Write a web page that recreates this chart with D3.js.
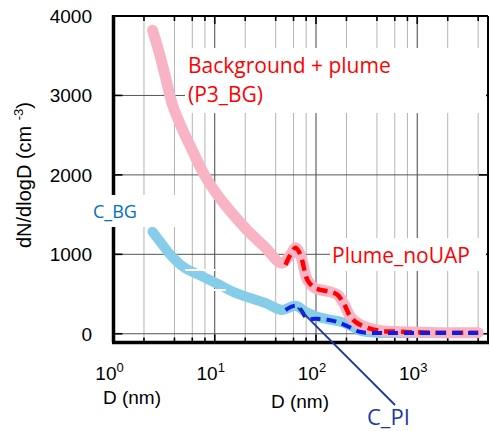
<!DOCTYPE html>
<html><head><meta charset="utf-8">
<script src="https://cdn.jsdelivr.net/npm/d3@7"></script>
<style>body{margin:0;background:#fff}svg{display:block}</style>
</head><body>
<svg id="c" width="490" height="431"></svg>
<script>
// ---- data ----
const bgPlumeD = [2.43,2.78,3.26,3.83,4.82,5.98,7.9,10.9,14.8,20.8,30.9,46,55.9,62.8,70.2,82.2,96.4,110.5,139,163,191,219,262,323,433,683,1700,4000];
const bgPlumeV = [3820,3572,3233,2881,2566,2315,2000,1727,1518,1308,1098,889,994,1082,994,679,579,553,528,490,365,214,126,75,38,25,13,13];
const plumeD = [50,55.9,62.8,70.2,82.2,96.4,110.5,139,163,191,219,262,323,433,683,1700,4000];
const plumeV = [868,994,1082,994,679,579,553,528,490,365,214,126,75,38,25,13,13];
const cbgD = [2.43,3.14,3.65,4.94,7.23,10.6,15.4,22.5,33,46,62.8,78.8,103,139,175,219,275,387,1070,4000];
const cbgV = [1283,1098,994,839,733,629,524,449,377,300,352,277,214,176,151,101,38,13,10,10];
const cpiD = [50,62.8,71,82,100,130,160,210,270,340,600,1500,4000];
const cpiV = [300,352,300,189,189,176,151,88,25,12,10,10,10];
const yTicks = [0,1000,2000,3000,4000];
const xMajor = [1,10,100,1000];
const xGrid = [2,4,6,8,10,20,40,60,80,100,200,400,600,800,1000,2000,4000];

const svg = d3.select("#c");
const x = d3.scaleLog().domain([1,5000]).range([113.5,488]);
const y = d3.scaleLinear().domain([-110,4000]).range([342.5,16]);
const L=113.5,R=488,T=16,B=342.5;

// grid
const isMajor = v => Math.abs(Math.log10(v)-Math.round(Math.log10(v)))<1e-9;
svg.append("g").selectAll("line").data(xGrid).join("line")
  .attr("x1",d=>x(d)).attr("x2",d=>x(d)).attr("y1",T).attr("y2",B)
  .attr("stroke",d=>isMajor(d)?"#444":"#b4b4b4").attr("stroke-width",1);
svg.append("g").selectAll("line").data(yTicks.slice(0,4)).join("line")
  .attr("x1",L).attr("x2",R).attr("y1",d=>y(d)).attr("y2",d=>y(d))
  .attr("stroke","#555").attr("stroke-width",1);

// ticks
const tg = svg.append("g").attr("stroke","#000").attr("stroke-width",1.6);
xGrid.forEach(d=>{
  const len = isMajor(d)?8:5;
  tg.append("line").attr("x1",x(d)).attr("x2",x(d)).attr("y1",B).attr("y2",B-len);
  tg.append("line").attr("x1",x(d)).attr("x2",x(d)).attr("y1",T).attr("y2",T+len);
});
yTicks.forEach(d=>{
  tg.append("line").attr("x1",L).attr("x2",L+9).attr("y1",y(d)).attr("y2",y(d));
  tg.append("line").attr("x1",R).attr("x2",R-9).attr("y1",y(d)).attr("y2",y(d));
});

// frame
svg.append("line").attr("x1",L).attr("x2",R).attr("y1",T).attr("y2",T).attr("stroke","#000").attr("stroke-width",2);
svg.append("line").attr("x1",R).attr("x2",R).attr("y1",T).attr("y2",B).attr("stroke","#000").attr("stroke-width",2);
svg.append("line").attr("x1",L-1.5).attr("x2",R+1).attr("y1",B).attr("y2",B).attr("stroke","#000").attr("stroke-width",3.5);
svg.append("line").attr("x1",L).attr("x2",L).attr("y1",T-1).attr("y2",B).attr("stroke","#000").attr("stroke-width",3.5);

// curves
const line = d3.line().x(d=>x(d[0])).y(d=>y(d[1])).curve(d3.curveCatmullRom.alpha(0.5));
const z = (a,b)=>a.map((v,i)=>[v,b[i]]);
svg.append("path").attr("d",line(z(cbgD,cbgV))).attr("fill","none").attr("stroke","#86CDEA").attr("stroke-width",10).attr("stroke-linecap","round").attr("stroke-linejoin","round");
svg.append("path").attr("d",line(z(bgPlumeD,bgPlumeV))).attr("fill","none").attr("stroke","#F8B4C4").attr("stroke-width",11).attr("stroke-linecap","round").attr("stroke-linejoin","round");
svg.append("path").attr("d",line(z(plumeD,plumeV))).attr("fill","none").attr("stroke","#FF0000").attr("stroke-width",4.5).attr("stroke-dasharray","11,6");
svg.append("path").attr("d",line(z(cpiD,cpiV))).attr("fill","none").attr("stroke","#0a1ee6").attr("stroke-width",4).attr("stroke-dasharray","10,6");

// thin white slivers crossing the C_BG band (as in the source)
svg.append("line").attr("x1",185).attr("x2",215).attr("y1",270).attr("y2",270).attr("stroke","#fff").attr("stroke-width",2);
svg.append("line").attr("x1",212).attr("x2",226).attr("y1",290).attr("y2",290).attr("stroke","#fff").attr("stroke-width",2);

// leader line C_PI
svg.append("line").attr("x1",x(66)).attr("y1",y(330)).attr("x2",395).attr("y2",405).attr("stroke","#1f36a0").attr("stroke-width",1.8);

// axis labels
const af = "'Liberation Sans', Arial, sans-serif";
svg.append("g").selectAll("text").data(yTicks).join("text")
  .attr("x",92).attr("y",d=>y(d)+7).attr("text-anchor","end")
  .attr("font-family",af).attr("font-size",19).text(d=>d);
xMajor.forEach(d=>{
  const t = svg.append("text").attr("x",x(d)-4).attr("y",380).attr("text-anchor","middle").attr("font-family",af).attr("font-size",19);
  t.append("tspan").text("10");
  t.append("tspan").attr("dy",-8).attr("font-size",13).text(Math.round(Math.log10(d)));
});
svg.append("text").attr("x",132).attr("y",404).attr("text-anchor","middle").attr("font-family",af).attr("font-size",19).text("D (nm)");
svg.append("text").attr("x",300).attr("y",408).attr("text-anchor","middle").attr("font-family",af).attr("font-size",19).text("D (nm)");
const yl = svg.append("text").attr("transform","translate(31,175) rotate(-90)").attr("text-anchor","middle").attr("font-family",af).attr("font-size",20);
yl.append("tspan").text("dN/dlogD (cm ");
yl.append("tspan").attr("dy",-8).attr("font-size",13).text("-3");
yl.append("tspan").attr("dy",8).text(")");

// annotations
const nf = "'Open Sans', 'Noto Sans', sans-serif";
svg.append("rect").attr("x",185).attr("y",48).attr("width",301).attr("height",65).attr("fill","#fff");
svg.append("text").attr("x",188).attr("y",73).attr("font-family",nf).attr("font-size",21).attr("fill","#FF0000").text("Background + plume");
svg.append("text").attr("x",188).attr("y",102).attr("font-family",nf).attr("font-size",21).attr("fill","#FF0000").text("(P3_BG)");
svg.append("rect").attr("x",90).attr("y",195).attr("width",87).attr("height",32).attr("fill","#fff");
svg.append("text").attr("x",93).attr("y",218).attr("font-family",nf).attr("font-size",18).attr("fill","#0070C0").text("C_BG");
svg.append("rect").attr("x",330).attr("y",238).attr("width",156).attr("height",33).attr("fill","#fff");
svg.append("text").attr("x",332).attr("y",263).attr("font-family",nf).attr("font-size",21).attr("fill","#FF0000").text("Plume_noUAP");
svg.append("text").attr("x",367).attr("y",425).attr("font-family",nf).attr("font-size",22).attr("fill","#1f36a8").text("C_PI");
</script>
</body></html>
